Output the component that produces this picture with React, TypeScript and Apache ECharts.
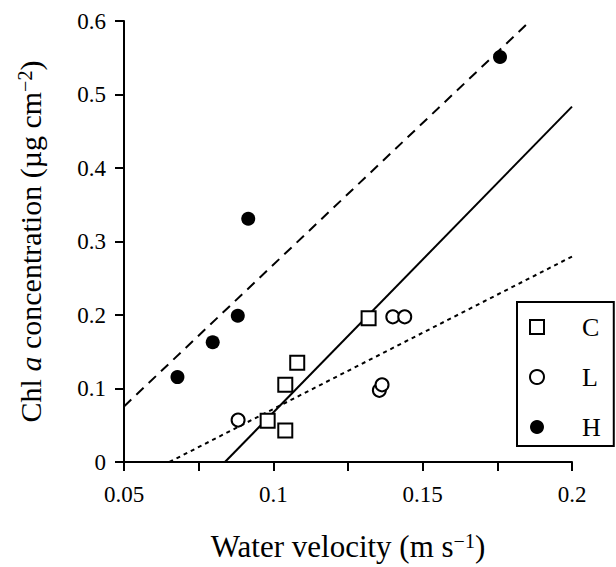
import React, { useEffect, useRef } from "react";
import * as echarts from "echarts";

const FONT = "Liberation Serif";

const seriesNames = ["C", "L", "H"];

// Water velocity (m s-1) and Chl a (µg cm-2) per treatment
const cVelocity = [0.0981, 0.104, 0.104, 0.108, 0.1319];
const cChl = [0.056, 0.105, 0.043, 0.135, 0.1955];

const lVelocity = [0.0882, 0.1355, 0.1364, 0.140, 0.144];
const lChl = [0.057, 0.0975, 0.105, 0.1975, 0.1975];

const hVelocity = [0.0679, 0.0797, 0.0881, 0.0916, 0.1759];
const hChl = [0.1155, 0.163, 0.199, 0.331, 0.551];

// Regression line end points [velocity, chl]
const cFit = [[0.0838, 0], [0.2, 0.4835]];
const lFit = [[0.0652, 0], [0.2, 0.2795]];
const hFit = [[0.05, 0.0756], [0.186, 0.6]];

const xTicks = [0.05, 0.1, 0.15, 0.2];
const yTicks = [0, 0.1, 0.2, 0.3, 0.4, 0.5, 0.6];

const zip = (a: number[], b: number[]) => a.map((v, i) => [v, b[i]]);

const tickRich = { a: { fontFamily: FONT, fontSize: 23, color: "#000" } };

export default function App() {
  const ref = useRef<HTMLDivElement>(null);
  useEffect(() => {
    if (!ref.current) return;
    const chart = echarts.init(ref.current, null, { renderer: "svg" });
    const lineStyleBase = { color: "#000", width: 2 };
    chart.setOption({
      animation: false,
      backgroundColor: "#fff",
      textStyle: { fontFamily: FONT, color: "#000" },
      grid: { left: 124, right: 44, top: 21, bottom: 100, containLabel: false },
      xAxis: {
        type: "value",
        min: xTicks[0],
        max: xTicks[xTicks.length - 1],
        interval: 0.05,
        splitLine: { show: false },
        axisLine: { show: true, onZero: false, lineStyle: { color: "#000", width: 2 } },
        axisTick: { show: true, length: 9, lineStyle: { color: "#000", width: 2 } },
        minorTick: { show: true, splitNumber: 2, length: 9, lineStyle: { color: "#000", width: 2 } },
        axisLabel: {
          color: "#000",
          fontFamily: FONT,
          fontSize: 23,
          margin: 21,
          rich: tickRich,
          formatter: (v: number) => "{a|" + String(Math.round(v * 100) / 100) + "}",
        },
        name: "{t|Water velocity (m s}{s|−1}{t|)}",
        nameLocation: "middle",
        nameGap: 69,
        nameTextStyle: {
          rich: {
            t: { fontFamily: FONT, fontSize: 31, color: "#000" },
            s: { fontFamily: FONT, fontSize: 20, color: "#000", verticalAlign: "top" },
          },
        },
      },
      yAxis: {
        type: "value",
        min: yTicks[0],
        max: yTicks[yTicks.length - 1],
        interval: 0.1,
        splitLine: { show: false },
        axisLine: { show: true, onZero: false, lineStyle: { color: "#000", width: 2 } },
        axisTick: { show: true, length: 9, lineStyle: { color: "#000", width: 2 } },
        axisLabel: {
          color: "#000",
          fontFamily: FONT,
          fontSize: 23,
          margin: 18,
          rich: tickRich,
          formatter: (v: number) => "{a|" + String(Math.round(v * 10) / 10) + "}",
        },
        name: "{t|Chl }{i|a}{t| concentration (µg cm}{s|−2}{t|)}",
        nameLocation: "middle",
        nameGap: 79,
        nameTextStyle: {
          rich: {
            t: { fontFamily: FONT, fontSize: 30, color: "#000" },
            i: { fontFamily: FONT, fontSize: 30, color: "#000", fontStyle: "italic" },
            s: { fontFamily: FONT, fontSize: 20, color: "#000", verticalAlign: "top" },
          },
        },
      },
      legend: {
        orient: "vertical",
        left: 517,
        top: 302,
        data: seriesNames,
        padding: [12, 13, 6, 12],
        itemWidth: 14,
        itemHeight: 14,
        itemGap: 24,
        borderColor: "#000",
        borderWidth: 2,
        borderRadius: 0,
        backgroundColor: "#fff",
        textStyle: { fontFamily: FONT, fontSize: 26, color: "#000", padding: [0, 0, 0, 33] },
      },
      series: [
        {
          name: "C fit",
          type: "line",
          data: cFit,
          symbol: "none",
          lineStyle: { ...lineStyleBase, type: "solid" },
          z: 2,
          silent: true,
        },
        {
          name: "L fit",
          type: "line",
          data: lFit,
          symbol: "none",
          lineStyle: { ...lineStyleBase, type: [4, 4] },
          z: 2,
          silent: true,
        },
        {
          name: "H fit",
          type: "line",
          data: hFit,
          symbol: "none",
          lineStyle: { ...lineStyleBase, type: [10, 7] },
          z: 2,
          silent: true,
        },
        {
          name: "C",
          type: "scatter",
          data: zip(cVelocity, cChl),
          symbol: "rect",
          symbolSize: 14,
          itemStyle: { color: "#fff", borderColor: "#000", borderWidth: 2, opacity: 1 },
          z: 5,
        },
        {
          name: "L",
          type: "scatter",
          data: zip(lVelocity, lChl),
          symbol: "circle",
          symbolSize: 13,
          itemStyle: { color: "#fff", borderColor: "#000", borderWidth: 2, opacity: 1 },
          z: 5,
        },
        {
          name: "H",
          type: "scatter",
          data: zip(hVelocity, hChl),
          symbol: "circle",
          symbolSize: 14,
          itemStyle: { color: "#000", borderColor: "#000", borderWidth: 0, opacity: 1 },
          z: 5,
        },
      ],
    });
    return () => chart.dispose();
  }, []);
  return (
    <div
      ref={ref}
      style={{ position: "absolute", left: 0, top: 0, width: 616, height: 567 }}
    />
  );
}
